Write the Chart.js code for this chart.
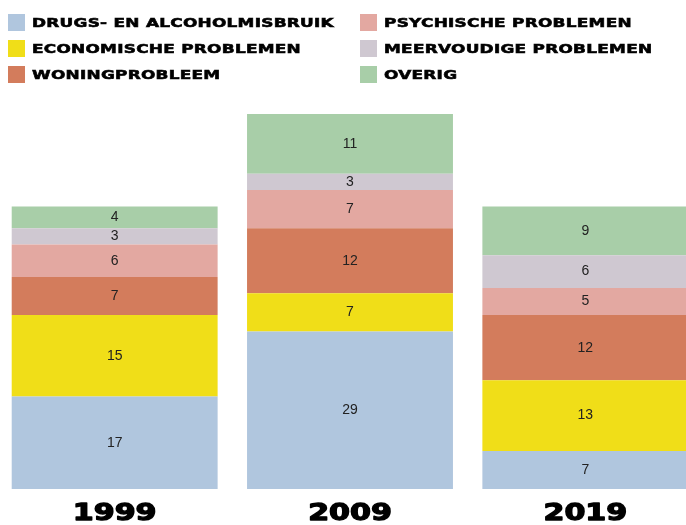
<!DOCTYPE html>
<html>
<head>
<meta charset="utf-8">
<script src="https://cdn.jsdelivr.net/npm/chart.js@4/dist/chart.umd.min.js"></script>
<style>
  html, body { margin: 0; padding: 0; background: #fff; overflow: hidden; }
  #wrap { position: relative; width: 686px; height: 525px; overflow: hidden; }
  #chart-box { position: absolute; left: -3px; top: 0; width: 706px; height: 525px; }
  #legend { position: absolute; left: 8px; top: 14px; display: grid; grid-auto-flow: column;
            grid-template-rows: repeat(3, 26px); grid-template-columns: 352px 320px; }
  .item { display: flex; align-items: flex-start; height: 26px; }
  .item .box { width: 17px; height: 17px; flex: none; margin-right: 7px; }
  .item .txt { display: inline-block; white-space: nowrap; font-family: "DejaVu Sans", sans-serif;
               font-weight: bold; font-size: 13px; line-height: 17px; letter-spacing: 0.2px; color: #000;
               transform: scaleX(1.3); transform-origin: left center; -webkit-text-stroke: 0.6px #000; }
</style>
</head>
<body>
<div id="wrap">
  <div id="chart-box"><canvas id="stack-chart" width="706" height="525"></canvas></div>
  <div id="legend"></div>
</div>
<script>
var years = ['1999', '2009', '2019'];
var seriesNames = ['DRUGS- EN ALCOHOLMISBRUIK', 'ECONOMISCHE PROBLEMEN', 'WONINGPROBLEEM',
                   'PSYCHISCHE PROBLEMEN', 'MEERVOUDIGE PROBLEMEN', 'OVERIG'];
var drugs = [17, 29, 7];
var economisch = [15, 7, 13];
var woning = [7, 12, 12];
var psychisch = [6, 7, 5];
var meervoudig = [3, 3, 6];
var overig = [4, 11, 9];
var colors = ['#B0C6DE', '#F0DE18', '#D37C5C', '#E3A8A1', '#CFC8D1', '#A8CEA8'];

var series = [drugs, economisch, woning, psychisch, meervoudig, overig];
var totals = years.map(function (y, i) {
	return series.reduce(function (s, arr) { return s + arr[i]; }, 0);
});

// draw the numbers in the middle of every segment
var valueLabels = {
	id: 'valueLabels',
	afterDatasetsDraw: function (chart) {
		var ctx = chart.ctx;
		ctx.save();
		ctx.font = '14px "Liberation Sans", Arial, sans-serif';
		ctx.fillStyle = '#222';
		ctx.textAlign = 'center';
		ctx.textBaseline = 'middle';
		chart.data.datasets.forEach(function (ds, i) {
			chart.getDatasetMeta(i).data.forEach(function (bar, j) {
				var p = bar.getProps(['x', 'y', 'base'], true);
				ctx.fillText(ds.data[j], p.x, (p.y + p.base) / 2);
			});
		});
		ctx.restore();
	}
};

// wide heavy year labels under the bars
var yearLabels = {
	id: 'yearLabels',
	afterDraw: function (chart) {
		var ctx = chart.ctx;
		var xScale = chart.scales.x;
		ctx.save();
		ctx.font = 'bold 23.5px "DejaVu Sans", sans-serif';
		ctx.fillStyle = '#000';
		ctx.strokeStyle = '#000';
		ctx.lineWidth = 1.3;
		ctx.lineJoin = 'round';
		ctx.textAlign = 'center';
		ctx.textBaseline = 'alphabetic';
		chart.data.labels.forEach(function (label, i) {
			ctx.save();
			ctx.translate(xScale.getPixelForValue(i), chart.chartArea.bottom + 30.5);
			ctx.scale(1.28, 1);
			ctx.strokeText(label, 0, 0);
			ctx.fillText(label, 0, 0);
			ctx.restore();
		});
		ctx.restore();
	}
};

var data = {
	labels: years,
	datasets: seriesNames.map(function (name, i) {
		return {
			label: name,
			data: series[i],
			backgroundColor: colors[i],
			borderWidth: 0,
			categoryPercentage: 0.875,
			barPercentage: 1
		};
	})
};

var myChart = new Chart(document.getElementById('stack-chart'), {
	type: 'bar',
	data: data,
	plugins: [valueLabels, yearLabels],
	options: {
		responsive: false,
		animation: false,
		devicePixelRatio: 1,
		layout: { padding: { top: 114, left: 0, right: 0, bottom: 0 } },
		plugins: { legend: { display: false }, tooltip: { enabled: false } },
		scales: {
			x: {
				stacked: true,
				grid: { display: false, drawTicks: false },
				border: { display: false },
				afterFit: function (scale) { scale.height = 36; },
				ticks: { display: false }
			},
			y: {
				stacked: true,
				display: false,
				min: 0,
				max: Math.max.apply(null, totals)
			}
		}
	}
});

// html legend in two columns
var legend = document.getElementById('legend');
myChart.data.datasets.forEach(function (ds) {
	var item = document.createElement('div');
	item.className = 'item';
	item.innerHTML = '<span class="box" style="background:' + ds.backgroundColor + '"></span>' +
		'<span class="txt">' + ds.label + '</span>';
	legend.appendChild(item);
});
</script>
</body>
</html>
